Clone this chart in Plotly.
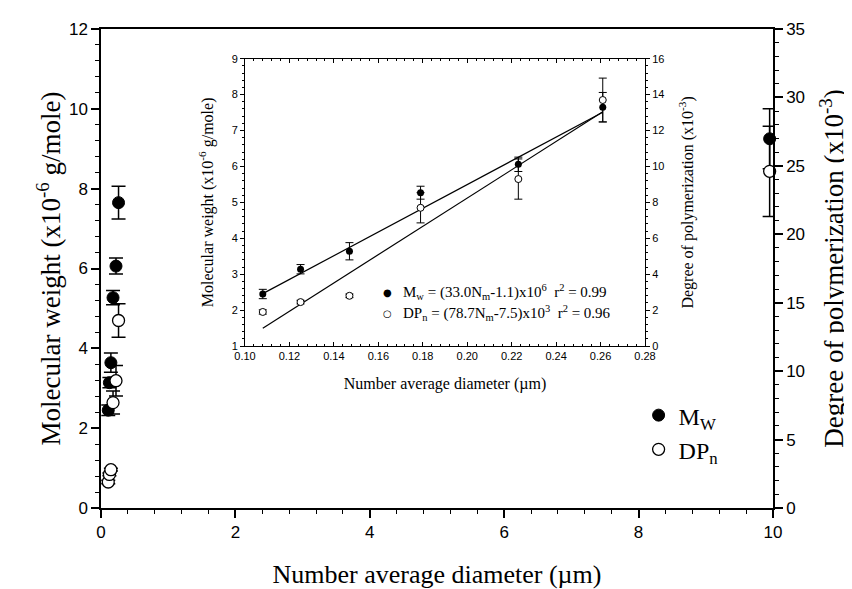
import plotly.graph_objects as go

# ---- data ----
diam = [0.108, 0.125, 0.147, 0.179, 0.223, 0.261, 9.95]         # number average diameter (µm)
mw = [2.45, 3.14, 3.64, 5.27, 6.06, 7.65, 9.25]                  # Mw (x10^6 g/mole)
mw_err = [0.13, 0.13, 0.24, 0.18, 0.20, 0.41, 0.75]
dp = [1.9, 2.45, 2.8, 7.7, 9.3, 13.7, 24.6]                      # DPn (x10^3)
dp_err = [0.12, 0.10, 0.10, 0.84, 1.12, 1.22, 3.3]

inset_diam = diam[:6]
inset_mw = mw[:6]
inset_mw_err = mw_err[:6]
inset_dp = dp[:6]
inset_dp_err = dp_err[:6]

fit_x = [0.108, 0.261]
mw_fit = [2.46, 7.51]     # (33.0 Nm - 1.1)
dp_fit = [1.00, 13.04]    # (78.7 Nm - 7.5)

SERIF = "Liberation Serif"
SANS = "Liberation Sans"

fig = go.Figure()

# main plot
fig.add_trace(go.Scatter(
    x=diam, y=mw, mode="markers", name="M<sub>W</sub>", cliponaxis=False,
    marker=dict(symbol="circle", size=12, color="black", line=dict(color="black", width=1)),
    error_y=dict(type="data", array=mw_err, color="black", thickness=1.5, width=7),
    xaxis="x", yaxis="y", legend="legend"))
fig.add_trace(go.Scatter(
    x=diam, y=dp, mode="markers", name="DP<sub>n</sub>", cliponaxis=False,
    marker=dict(symbol="circle", size=12, color="white", line=dict(color="black", width=1.3)),
    error_y=dict(type="data", array=dp_err, color="black", thickness=1.5, width=7),
    xaxis="x", yaxis="y2", legend="legend"))

# inset fits
fig.add_trace(go.Scatter(x=fit_x, y=mw_fit, mode="lines", line=dict(color="black", width=1.2),
                         xaxis="x3", yaxis="y3", showlegend=False))
fig.add_trace(go.Scatter(x=fit_x, y=dp_fit, mode="lines", line=dict(color="black", width=1.2),
                         xaxis="x3", yaxis="y4", showlegend=False))
# inset points
fig.add_trace(go.Scatter(
    x=inset_diam, y=inset_mw, mode="markers", showlegend=False,
    marker=dict(symbol="circle", size=7, color="black"),
    error_y=dict(type="data", array=inset_mw_err, color="black", thickness=1, width=4),
    xaxis="x3", yaxis="y3"))
fig.add_trace(go.Scatter(
    x=inset_diam, y=inset_dp, mode="markers", showlegend=False,
    marker=dict(symbol="circle", size=7, color="white", line=dict(color="black", width=1)),
    error_y=dict(type="data", array=inset_dp_err, color="black", thickness=1, width=4),
    xaxis="x3", yaxis="y4"))

main_axis = dict(showgrid=False, zeroline=False, showline=True, linecolor="black", linewidth=1.5,
                 ticks="outside", ticklen=8, tickwidth=1.5, tickcolor="black",
                 tickfont=dict(family=SANS, size=17, color="black"))
inset_axis = dict(showgrid=False, zeroline=False, showline=True, linecolor="black", linewidth=1,
                  ticklen=4, tickwidth=1, tickcolor="black",
                  tickfont=dict(family=SANS, size=11, color="black"))

fig.update_layout(
    width=852, height=589,
    margin=dict(l=93, r=87, t=18, b=89),
    paper_bgcolor="white", plot_bgcolor="white",
    xaxis=dict(**main_axis, range=[0, 10], dtick=2, tick0=0, mirror=True,
               minor=dict(dtick=0.4, ticks="outside", ticklen=4, tickwidth=1.2, tickcolor="black"),
               title=dict(text="Number average diameter (µm)", font=dict(family=SERIF, size=26, color="black"),
                          standoff=24)),
    yaxis=dict(**main_axis, range=[0, 12], dtick=2, tick0=0,
               minor=dict(dtick=0.4, ticks="outside", ticklen=4, tickwidth=1.2, tickcolor="black"),
               title=dict(text="Molecular weight (x10<sup>-6</sup> g/mole)",
                          font=dict(family=SERIF, size=27, color="black"), standoff=0)),
    yaxis2=dict(**main_axis, range=[0, 35], dtick=5, tick0=0, overlaying="y", side="right", anchor="x",
                minor=dict(dtick=1, ticks="outside", ticklen=4, tickwidth=1.2, tickcolor="black"),
                title=dict(text="Degree of polymerization (x10<sup>-3</sup>)",
                           font=dict(family=SERIF, size=27, color="black"), standoff=20)),
    xaxis3=dict(**inset_axis, domain=[0.2143, 0.8095], anchor="y3", range=[0.10, 0.28], dtick=0.02,
                tick0=0.10, tickformat=".2f", ticks="inside", mirror="ticks",
                minor=dict(dtick=0.004, ticks="inside", ticklen=2.5, tickwidth=1, tickcolor="black"),
                title=dict(text="Number average diameter (µm)", font=dict(family=SERIF, size=16, color="black"),
                           standoff=16)),
    yaxis3=dict(**inset_axis, domain=[0.338, 0.938], anchor="x3", range=[1, 9], dtick=1, tick0=1,
                ticks="outside",
                minor=dict(dtick=0.2, ticks="outside", ticklen=2.5, tickwidth=1, tickcolor="black"),
                title=dict(text="Molecular weight (x10<sup>-6</sup> g/mole)",
                           font=dict(family=SERIF, size=16, color="black"), standoff=14)),
    yaxis4=dict(**inset_axis, range=[0, 16], dtick=2, tick0=0, overlaying="y3", side="right", anchor="x3",
                ticks="outside",
                minor=dict(dtick=0.4, ticks="outside", ticklen=2.5, tickwidth=1, tickcolor="black"),
                title=dict(text="Degree of polymerization (x10<sup>-3</sup>)",
                           font=dict(family=SERIF, size=16, color="black"), standoff=18)),
    legend=dict(x=0.80, y=0.24, xanchor="left", yanchor="top", bgcolor="rgba(0,0,0,0)",
                font=dict(family=SERIF, size=24, color="black"), tracegroupgap=4),
    showlegend=True,
)

# inset legend (equations)
leg_rows = [
    ("●", "M<sub>w</sub> = (33.0N<sub>m</sub>-1.1)x10<sup>6</sup>  r<sup>2</sup> = 0.99", 0.450),
    ("○", "DP<sub>n</sub> = (78.7N<sub>m</sub>-7.5)x10<sup>3</sup>  r<sup>2</sup> = 0.96", 0.4066),
]
for sym, txt, yy in leg_rows:
    fig.add_annotation(x=0.427, y=yy, xref="paper", yref="paper", text=sym, showarrow=False,
                       xanchor="center", yanchor="middle", font=dict(family="DejaVu Sans", size=10, color="black"))
    fig.add_annotation(x=0.4464, y=yy, xref="paper", yref="paper", text=txt, showarrow=False,
                       xanchor="left", yanchor="middle", font=dict(family=SERIF, size=15, color="black"))

fig.write_html("out.html")
